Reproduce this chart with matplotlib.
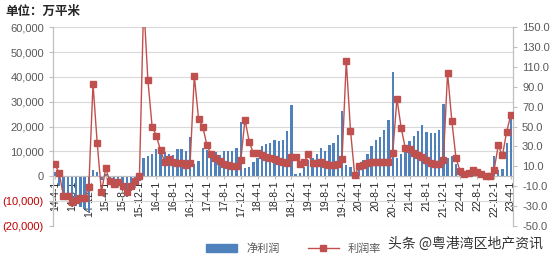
import matplotlib
matplotlib.use('Agg')
import matplotlib.pyplot as plt
from matplotlib.lines import Line2D
from matplotlib.patches import Patch

plt.rcParams['font.family'] = ['Liberation Sans', 'Noto Sans CJK SC', 'DejaVu Sans']

# monthly categories 2014-04 .. 2023-04
months = [f"{y % 100}-{m}-1" for y in range(2014, 2024) for m in range(1, 13)
          if (y, m) >= (2014, 4) and (y, m) <= (2023, 4)]

# 净利润 (万平米)
profit = [1800, -4000, -7000, -9000, -11000, -12000, -12500, -13000, -14500,
          2400, 1600, -1500, 1000, -2000, -3000, -4000, -5000, -8500, -6000, -4000, -2000,
          7300, 8200, 9000, 11000, 9500, 9700, 9000, 8500, 10800, 11000, 10200, 16000,
          5100, 6000, 11200, 10500, 9100, 9800, 8700, 10000, 10000, 10000, 11500, 22000,
          3400, 3800, 5800, 7500, 12000, 13000, 13400, 14500, 14200, 14500, 18100, 28600,
          800, 1300, 3800, 6700, 7400, 9100, 11200, 10200, 12400, 13400, 16500, 26300,
          4400, 3800, 1000, 4000, 6500, 9000, 12000, 14500, 16000, 18500, 22500, 42000,
          7500, 9100, 9800, 14200, 16100, 18300, 20600, 17900, 17500, 17500, 18800, 29000,
          7500, 8100, 4800, 1700, 1100, 1300, 3800, 2400, 1100, 400, 400, 8100,
          2400, 3100, 13400, 24000]

# 利润率
margin = [12, 3, -20, -20, -26, -24, -22, -22, -11,
          93, 33, -16, 8, -5, -8, -6, -10, -16, -10, -5, 0,
          175, 97, 50, 41, 26, 14, 17, 14, 13, 13, 11, 13,
          101, 58, 50, 31, 22, 18, 15, 12, 11, 10, 10, 16,
          57, 35, 23, 23, 21, 19.5, 18.5, 17, 15.5, 14, 13, 19.5,
          19.5, 12, 14, 22, 13, 13, 14, 12, 11, 11, 12, 17,
          116, 46, 1, 10, 11, 13, 14, 14, 14, 14, 14, 23,
          78, 49, 28, 27, 23.5, 21, 19, 16, 13, 12, 12, 16,
          104, 56, 18, 5, 2, 3, 6, 4, 2, 0, 0, 6,
          31, 21, 45, 62]

left_ticks = list(range(-20000, 60001, 10000))
right_ticks = list(range(-50, 151, 20))

blue = '#4f81bd'
red = '#c0504d'
grey = '#595959'

fig = plt.figure(figsize=(5.54, 2.59), dpi=100)
ax1 = fig.add_axes([0.0955, 0.1274, 0.926 - 0.0955, 0.895 - 0.1274])
ax2 = ax1.twinx()

# x axis crosses at zero, set before ticks so the labels keep their style
ax1.spines['bottom'].set_position(('data', 0))

x = list(range(len(months)))
ax1.bar(x, profit, width=0.55, color=blue, zorder=2)
ax2.plot(x, margin, color=red, lw=1, marker='s', markersize=4.3,
         markerfacecolor=red, markeredgecolor=red, zorder=3)

ax1.set_xlim(-0.5, len(months) - 0.5)
ax1.set_ylim(-20000, 60000)
ax2.set_ylim(-50, 150)

ax1.set_yticks(left_ticks,
               labels=[f"{v:,}" if v >= 0 else f"({-v:,})" for v in left_ticks])
for v, lab in zip(left_ticks, ax1.get_yticklabels()):
    lab.set_color('#c00000' if v < 0 else grey)
ax1.tick_params(axis='y', labelsize=8, length=3, color='#bfbfbf')
ax1.yaxis.grid(True, color='#d9d9d9', lw=0.8, zorder=0)
ax1.set_axisbelow(True)

ax2.set_yticks(right_ticks, labels=[f"{v:.1f}" for v in right_ticks])
ax2.tick_params(axis='y', labelsize=8, length=3, color='#bfbfbf', labelcolor=grey)

ticks = x[::4]
ax1.set_xticks(ticks, labels=[months[i] for i in ticks])
ax1.tick_params(axis='x', labelsize=7.5, length=2, pad=1, color='#bfbfbf',
                labelcolor='#262626', labelrotation=90)

for a in (ax1, ax2):
    a.spines['top'].set_visible(False)
    for s in ('left', 'right', 'bottom'):
        a.spines[s].set_color('#bfbfbf')
        a.spines[s].set_linewidth(0.8)
ax2.spines['bottom'].set_visible(False)

fig.text(0.01, 0.955, '单位：万平米', fontsize=9, fontweight='bold', color='#262626',
         family=['Noto Sans CJK SC', 'DejaVu Sans'], va='center')

handles = [Patch(color=blue, label='净利润'),
           Line2D([0], [0], color=red, lw=1, marker='s', markersize=4.3, label='利润率')]
fig.legend(handles=handles, loc='center', bbox_to_anchor=(0.53, 0.04), ncol=2,
           frameon=False, handlelength=2.8, columnspacing=2.5,
           labelcolor=grey, prop={'family': ['Noto Sans CJK SC', 'DejaVu Sans'], 'size': 8})

fig.text(0.70, 0.06, '头条 @粤港湾区地产资讯', fontsize=10, color='#333333',
         family=['Noto Sans CJK SC', 'DejaVu Sans'], va='center')

fig.savefig('out.png', dpi=100)
